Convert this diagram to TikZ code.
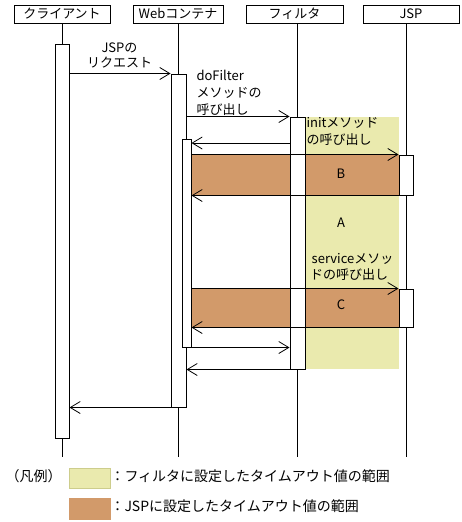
\documentclass[tikz,border=0pt]{standalone}
\usepackage{fontspec}
\setmainfont{Noto Sans CJK JP}
\usetikzlibrary{arrows.meta}
\definecolor{yel}{RGB}{234,234,174}
\definecolor{yelborder}{RGB}{205,205,140}
\definecolor{brn}{RGB}{210,154,106}
\begin{document}
\begin{tikzpicture}[x=1pt,y=-1pt,line width=1pt,
  hdr/.style={draw,fill=white,minimum height=18pt,inner sep=0pt,font=\fontsize{13}{15}\selectfont},
  actbox/.style={draw,fill=white,inner sep=0pt},
  msg/.style={-{Straight Barb[length=10pt,width=12pt,line width=0.8pt]}},
  lbl/.style={inner sep=0pt,font=\fontsize{13}{15}\selectfont,text height=10.5pt,text depth=2.5pt},
  leg/.style={inner sep=0pt,font=\fontsize{14}{16}\selectfont,text height=11pt,text depth=3pt},
  band/.style={fill=brn}]
\useasboundingbox (0,0) rectangle (462,522);
% headers
\node[hdr,minimum width=96pt] (hC) at (62,14) {クライアント};
\node[hdr,minimum width=90pt] (hW) at (178,14) {Webコンテナ};
\node[hdr,minimum width=97pt] (hF) at (294.5,14) {フィルタ};
\node[hdr,minimum width=96pt] (hJ) at (411,14) {JSP};
% lifelines
\coordinate (cT) at (62,23);  \coordinate (cB) at (62,457);
\coordinate (wT) at (178,23); \coordinate (wB) at (178,457);
\coordinate (fT) at (297,23); \coordinate (fB) at (297,457);
\coordinate (jT) at (406,23); \coordinate (jB) at (406,457);
\draw (cT) -- (cB);
\draw (wT) -- (wB);
\draw (fT) -- (fB);
\draw (jT) -- (jB);
% timeout areas
\fill[yel] (305,117) rectangle (399,369);
\fill[band] (191,155) rectangle (399,195);
\fill[band] (191,289) rectangle (399,327);
% activations
\node[actbox,minimum width=14pt,minimum height=394pt] (aC) at (62,241) {};
\node[actbox,minimum width=15pt,minimum height=333pt] (aW) at (178.5,240.5) {};
\node[actbox,minimum width=9pt,minimum height=208pt] (aN) at (186.5,243) {};
\node[actbox,minimum width=15pt,minimum height=252pt] (aF) at (297.5,243) {};
\node[actbox,minimum width=14pt,minimum height=40pt] (aJ1) at (406,175) {};
\node[actbox,minimum width=14pt,minimum height=38pt] (aJ2) at (406,308) {};
% messages
\draw[msg] (aC.east |- aW.north) -- (aW.north west);
\draw[msg] (aW.east |- aF.north) -- (aF.north west);
\coordinate (m3) at (290,143);
\draw[msg] (m3) -- (aN.east |- m3);
\draw[msg] (aN.east |- aJ1.north) -- (aJ1.north west);
\draw[msg] (aJ1.south west) -- (aN.east |- aJ1.south);
\draw[msg] (aN.east |- aJ2.north) -- (aJ2.north west);
\draw[msg] (aJ2.south west) -- (aN.east |- aJ2.south);
\draw[msg] (aN.south east) -- (aF.west |- aN.south);
\draw[msg] (aF.south west) -- (aW.east |- aF.south);
\draw[msg] (aW.south west) -- (aC.east |- aW.south);
% labels
\node[lbl] (l1) at (119.5,48) {JSPの};
\node[lbl] (l2) at (119.5,63) {リクエスト};
\node[lbl,anchor=west] (l3) at (196,76) {doFilter};
\node[lbl,anchor=west] (l4) at (196,93) {メソッドの};
\node[lbl,anchor=west] (l5) at (196,110) {呼び出し};
\node[lbl,anchor=west] (l6) at (306,123) {initメソッド};
\node[lbl,anchor=west] (l7) at (306,140) {の呼び出し};
\node[lbl] (l8) at (352.5,259) {serviceメソッ};
\node[lbl] (l9) at (349,275) {ドの呼び出し};
\node[lbl] (lB) at (341,174) {B};
\node[lbl] (lA) at (341,223) {A};
\node[lbl] (lC) at (341,305) {C};
% legend
\node[leg,anchor=west] (lg) at (5,477) {（凡例）};
\node[draw=yelborder,fill=yel,minimum width=41pt,minimum height=20pt,inner sep=0pt] (sw1) at (89.5,478) {};
\node[draw=brn,fill=brn,minimum width=41pt,minimum height=21pt,inner sep=0pt] (sw2) at (89.5,508.5) {};
\node[leg,anchor=west] (lt1) at (110,477) {：フィルタに設定したタイムアウト値の範囲};
\node[leg,anchor=west] (lt2) at (110,507) {：JSPに設定したタイムアウト値の範囲};
\end{tikzpicture}
\end{document}
